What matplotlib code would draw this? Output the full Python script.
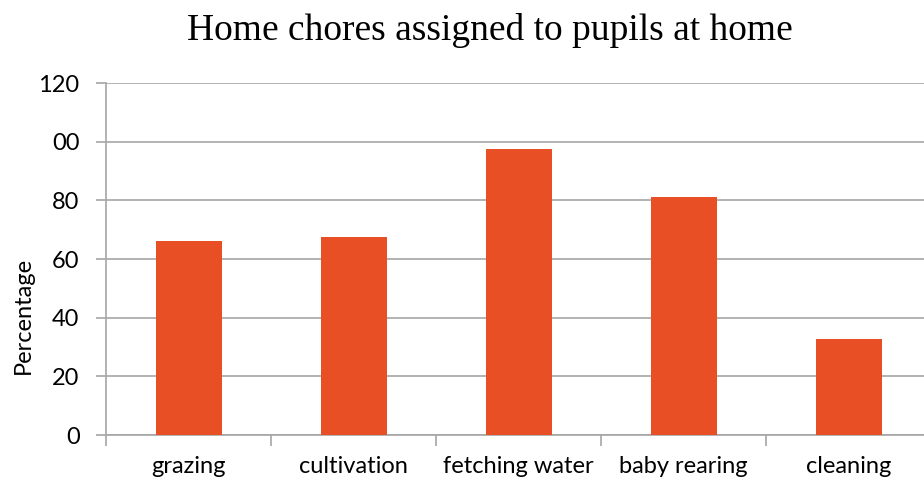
import numpy as np
import matplotlib
matplotlib.use('Agg')
from matplotlib import pyplot as plt

chores = ['grazing', 'cultivation', 'fetching water', 'baby rearing', 'cleaning']
percent = [66.1, 67.5, 97.5, 81.1, 32.7]
y_ticks = [0, 20, 40, 60, 80, 100, 120]
y_labels = ['0', '20', '40', '60', '80', '00', '120']  # the "1" is cut off in the source

BAR_COLOR = '#e84f24'
GRID_COLOR = '#a6a6a6'
FONT = 'Lato'

fig = plt.figure(figsize=(9.24, 4.83), dpi=100)
W, H = 924, 483
ax = fig.add_axes([106 / W, 1 - 435 / H, 825 / W, 352 / H])

x = np.arange(len(chores))
ax.bar(x, percent, width=0.4, color=BAR_COLOR, zorder=3)

ax.set_xlim(-0.5, len(chores) - 0.5)
ax.set_ylim(0, 120)
ax.set_yticks(y_ticks)
ax.set_yticklabels(y_labels, fontsize=17, family=FONT)
ax.yaxis.grid(True, color=GRID_COLOR, linewidth=1.2, zorder=0)

# category labels between boundary ticks
ax.set_xticks(np.arange(-0.5, len(chores), 1.0))
ax.set_xticklabels([])
ax.set_xticks(x, minor=True)
ax.set_xticklabels(chores, minor=True, fontsize=17, family=FONT)
ax.tick_params(axis='x', which='minor', length=0, pad=15)
ax.tick_params(axis='x', which='major', length=8, color=GRID_COLOR, width=1.2)
ax.tick_params(axis='y', length=7, color=GRID_COLOR, width=1.2, pad=12)

for side in ['top', 'right']:
    ax.spines[side].set_visible(False)
for side in ['left', 'bottom']:
    ax.spines[side].set_color(GRID_COLOR)
    ax.spines[side].set_linewidth(1.2)

ax.set_ylabel('Percentage', fontsize=17, family=FONT)
ax.yaxis.set_label_coords(-0.088, 0.34)

fig.text(490 / W, 1 - 30 / H, 'Home chores assigned to pupils at home',
         ha='center', va='center', fontsize=27, family='Liberation Serif')

fig.savefig('out.png', dpi=100)
